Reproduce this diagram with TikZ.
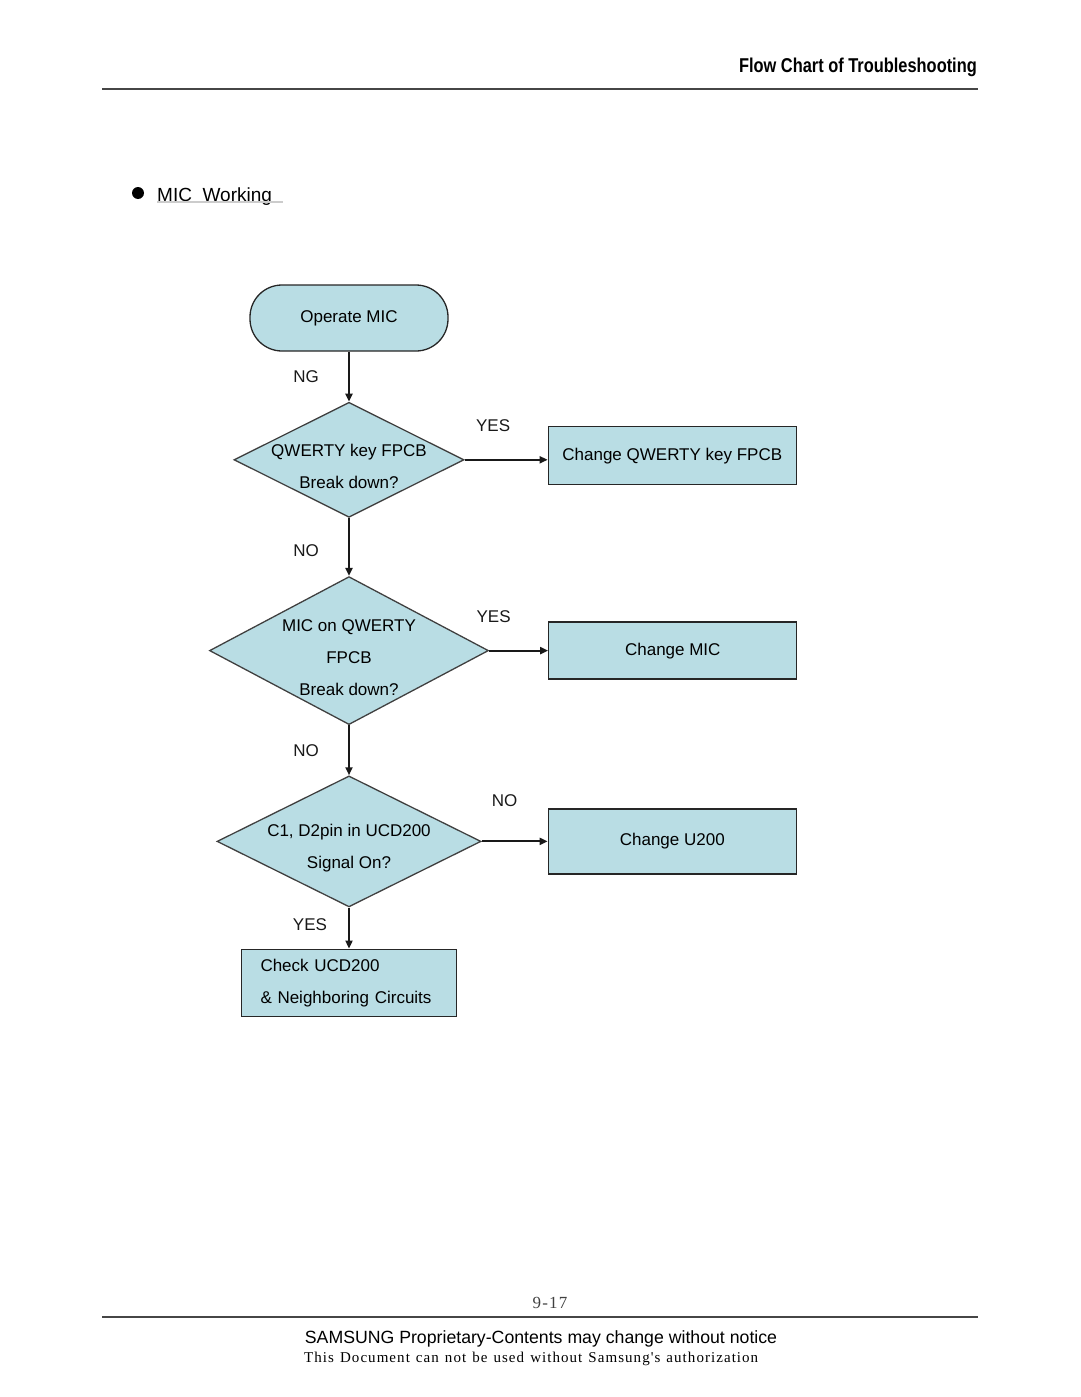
\documentclass[tikz,border=0pt]{standalone}
\usepackage{fontspec}
\setmainfont{Liberation Sans}
\newfontfamily\serifface{Liberation Serif}
\newfontfamily\serifwide[LetterSpace=7]{Liberation Serif}
\usetikzlibrary{arrows.meta, positioning, shapes.geometric}
\definecolor{flowblue}{RGB}{185,221,228}
\definecolor{rulegray}{RGB}{70,70,70}

\begin{document}
\begin{tikzpicture}[
  x=1pt, y=-1pt,
  term/.style={draw=black!85, fill=flowblue, line width=1.3pt, rounded corners=32pt, minimum width=198pt, minimum height=66pt, font=\fontsize{17}{20}\selectfont},
  dec/.style={draw=black!75, fill=flowblue, line width=1.3pt, diamond, inner sep=0pt},
  dtext/.style={align=center, font=\fontsize{17}{32}\selectfont},
  box/.style={draw=black!85, fill=flowblue, line width=1.3pt, minimum width=248pt, align=center, font=\fontsize{17}{20}\selectfont},
  lbl/.style={font=\fontsize{17}{20}\selectfont},
  flow/.style={-{Triangle[length=8pt,width=7pt]}, line width=2.1pt, black!90},
  node distance=50pt
]
\useasboundingbox (0,0) rectangle (1080,1397);

% header
\node[anchor=base east, inner sep=0pt, font=\bfseries\fontsize{20}{22}\selectfont] (hdr) at (977,73) {\scalebox{0.82}[1]{Flow\ Chart\ of\ Troubleshooting}};
\draw[rulegray, line width=1.3pt] (102,89) -- (978,89);
\fill (138,193) circle (6pt);
\node[anchor=base west, inner sep=0pt, font=\fontsize{19}{22}\selectfont] (title) at (157,201) {MIC\ \ Working};
\draw[black!20, line width=1.5pt] (157,202) -- (283,202);

% flow
\node[term] (start) at (349,318) {Operate MIC};
\node[dec, below=of start, minimum width=230pt, minimum height=115pt] (qkey) {};
\node[dtext] (qkeytxt) at ([yshift=-7pt]qkey.center) {QWERTY key FPCB\\Break down?};
\node[box, right=83pt of qkey, yshift=4pt, minimum height=58pt] (chgq) {Change QWERTY key FPCB};

\node[dec, below=58pt of qkey, minimum width=279pt, minimum height=148pt] (mic) {};
\node[dtext] (mictxt) at ([yshift=-7pt]mic.center) {MIC on QWERTY\\FPCB\\Break down?};
\node[box, right=59pt of mic, minimum height=57pt] (chgmic) {Change MIC};

\node[dec, below=of mic, minimum width=264pt, minimum height=131pt] (sig) {};
\node[dtext] (sigtxt) at ([yshift=-7pt]sig.center) {C1, D2pin in UCD200\\Signal On?};
\node[box, right=66pt of sig, minimum height=65pt] (chgu) {Change U200};

\node[box, below=41pt of sig, minimum width=215pt, minimum height=67pt, text width=177pt, inner xsep=19pt, align=left, font=\fontsize{17}{32}\selectfont] (chk) {Check UCD200\\\& Neighboring Circuits};

\draw[flow] (start) -- node[lbl, midway, xshift=-43pt]{NG} (qkey);
\draw[flow] (qkey) -- node[lbl, midway, xshift=-13pt, yshift=34pt]{YES} (qkey -| chgq.west);
\draw[flow] (qkey) -- node[lbl, midway, xshift=-43pt, yshift=-4pt]{NO} (mic);
\draw[flow] (mic) -- node[lbl, midway, xshift=-25pt, yshift=34pt]{YES} (chgmic);
\draw[flow] (mic) -- node[lbl, midway, xshift=-43pt]{NO} (sig);
\draw[flow] (sig) -- node[lbl, midway, xshift=-10pt, yshift=41pt]{NO} (chgu);
\draw[flow] (sig) -- node[lbl, midway, xshift=-39pt, yshift=3pt]{YES} (chk);

% footer
\node[font=\serifwide\fontsize{17}{20}\selectfont, text=black!75] (pg) at (550,1303) {9-17};
\draw[rulegray, line width=1.3pt] (102,1317) -- (978,1317);
\node[anchor=base, font=\fontsize{17.7}{20}\selectfont] (prop) at (541,1343) {SAMSUNG Proprietary-Contents may change without notice};
\node[anchor=base west, inner sep=0pt, font=\serifwide\fontsize{15}{18}\selectfont] (auth) at (304,1362) {\makebox[454pt][s]{This Document can not be used without Samsung's authorization}};
\end{tikzpicture}
\end{document}
